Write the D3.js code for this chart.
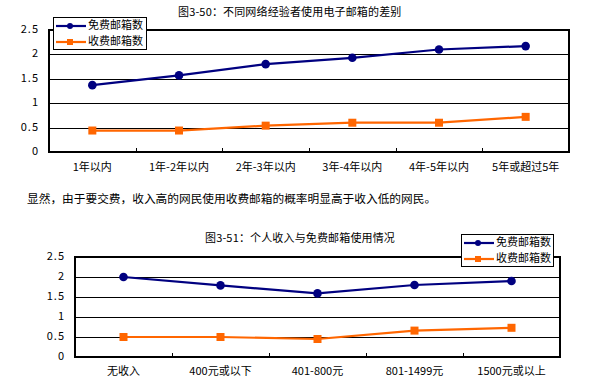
<!DOCTYPE html>
<html><head><meta charset="utf-8">
<script src="https://cdn.jsdelivr.net/npm/d3@7"></script>
<style>
body{margin:0;background:#fff;}
svg text{font-family:"Noto Sans CJK SC","DejaVu Sans",sans-serif;fill:#000;}
</style></head>
<body><svg id="c" width="597" height="390"></svg>
<script>
const seriesNames = ["免费邮箱数", "收费邮箱数"];
const yTicks = [0, 0.5, 1, 1.5, 2, 2.5];
const yTickLabels = ["0", "0.5", "1", "1.5", "2", "2.5"];

const title1 = "图3-50：不同网络经验者使用电子邮箱的差别";
const categories1 = ["1年以内", "1年-2年以内", "2年-3年以内", "3年-4年以内", "4年-5年以内", "5年或超过5年"];
const free1 = [1.37, 1.57, 1.80, 1.93, 2.10, 2.17];
const paid1 = [0.44, 0.44, 0.54, 0.60, 0.60, 0.72];

const middleText = "显然，由于要交费，收入高的网民使用收费邮箱的概率明显高于收入低的网民。";

const title2 = "图3-51：个人收入与免费邮箱使用情况";
const categories2 = ["无收入", "400元或以下", "401-800元", "801-1499元", "1500元或以上"];
const free2 = [2.0, 1.79, 1.59, 1.80, 1.90];
const paid2 = [0.50, 0.50, 0.45, 0.66, 0.73];

const colors = ["#000080", "#FF6600"];
const svg = d3.select("#c");

function drawChart(o) {
  const g = svg.append("g");
  const x = d3.scaleBand().domain(o.categories).range([o.left, o.right]);
  const y = d3.scaleLinear().domain([0, 2.5]).range([o.bottom, o.top]);

  g.append("text").attr("x", o.titleX).attr("y", o.titleY).attr("font-size", 11).attr("letter-spacing", 0.15)
    .attr("dominant-baseline", "middle").text(o.title);

  g.selectAll(".grid").data(yTicks.slice(1, -1)).join("line")
    .attr("x1", o.left).attr("x2", o.right)
    .attr("y1", d => Math.round(y(d)) + 0.5).attr("y2", d => Math.round(y(d)) + 0.5)
    .attr("stroke", "#000").attr("stroke-width", 1);

  g.selectAll(".yl").data(yTicks).join("text")
    .attr("x", o.left - 10).attr("y", d => y(d)).attr("text-anchor", "end")
    .attr("dominant-baseline", "middle").attr("font-size", 11).attr("letter-spacing", 1)
    .text((d, i) => yTickLabels[i]);

  const bounds = o.categories.slice(1).map(c => x(c));
  g.selectAll(".tk").data(bounds).join("line")
    .attr("x1", d => Math.round(d) + 0.5).attr("x2", d => Math.round(d) + 0.5)
    .attr("y1", o.bottom).attr("y2", o.bottom - 4)
    .attr("stroke", "#000").attr("stroke-width", 1);

  g.selectAll(".xl").data(o.categories).join("text")
    .attr("x", d => x(d) + x.bandwidth() / 2).attr("y", o.xLabelY)
    .attr("text-anchor", "middle").attr("dominant-baseline", "middle")
    .attr("font-size", 11).text(d => d);

  const line = d3.line().x((d, i) => x(o.categories[i]) + x.bandwidth() / 2).y(d => y(d));
  [o.free, o.paid].forEach((vals, si) => {
    g.append("path").attr("d", line(vals)).attr("fill", "none")
      .attr("stroke", colors[si]).attr("stroke-width", 2.2);
  });
  g.selectAll(".pf").data(o.free).join("circle")
    .attr("cx", (d, i) => x(o.categories[i]) + x.bandwidth() / 2).attr("cy", d => y(d))
    .attr("r", 4.3).attr("fill", colors[0]);
  g.selectAll(".pp").data(o.paid).join("rect")
    .attr("x", (d, i) => x(o.categories[i]) + x.bandwidth() / 2 - 4).attr("y", d => y(d) - 4)
    .attr("width", 8).attr("height", 8).attr("fill", colors[1]);

  g.append("rect").attr("x", o.left).attr("y", o.top)
    .attr("width", o.right - o.left).attr("height", o.bottom - o.top)
    .attr("fill", "none").attr("stroke", "#000").attr("stroke-width", 2);

  const lg = g.append("g");
  lg.append("rect").attr("x", o.lgX + 0.5).attr("y", o.lgY + 0.5).attr("width", o.lgW).attr("height", o.lgH)
    .attr("fill", "#fff").attr("stroke", "#000").attr("stroke-width", 1);
  seriesNames.forEach((name, i) => {
    const yy = o.lgY + 9 + i * 16;
    lg.append("line").attr("x1", o.lgX + 3).attr("x2", o.lgX + 33).attr("y1", yy).attr("y2", yy)
      .attr("stroke", colors[i]).attr("stroke-width", 2.2);
    if (i === 0) lg.append("circle").attr("cx", o.lgX + 17).attr("cy", yy).attr("r", 3).attr("fill", colors[0]);
    else lg.append("rect").attr("x", o.lgX + 14).attr("y", yy - 3).attr("width", 6).attr("height", 6).attr("fill", colors[1]);
    lg.append("text").attr("x", o.lgX + 35).attr("y", yy).attr("dominant-baseline", "middle")
      .attr("font-size", 11).text(name);
  });
}

drawChart({
  title: title1, titleX: 178, titleY: 13,
  categories: categories1, free: free1, paid: paid1,
  left: 49, right: 569, top: 30, bottom: 152, xLabelY: 168,
  lgX: 53, lgY: 17, lgW: 93, lgH: 32
});

svg.append("text").attr("x", 27).attr("y", 200).attr("font-size", 11.7)
  .attr("dominant-baseline", "middle").text(middleText);

drawChart({
  title: title2, titleX: 205, titleY: 239,
  categories: categories2, free: free2, paid: paid2,
  left: 75, right: 560, top: 257, bottom: 357, xLabelY: 372,
  lgX: 461, lgY: 234, lgW: 92, lgH: 32
});
</script></body></html>
